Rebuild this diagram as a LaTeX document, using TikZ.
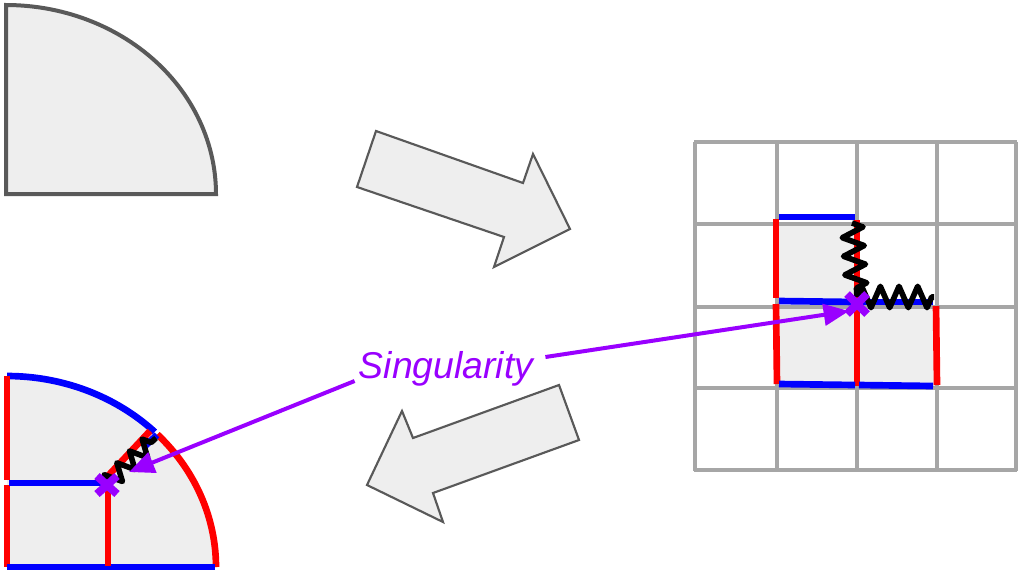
\documentclass[tikz,border=0pt]{standalone}
\usepackage{fontspec}
\setmainfont{Liberation Sans}
\usetikzlibrary{arrows.meta,decorations.pathmorphing,calc}
\definecolor{shapefill}{HTML}{EEEEEE}
\definecolor{shapeline}{HTML}{595959}
\definecolor{gridgray}{HTML}{A6A6A6}
\definecolor{redline}{HTML}{FF0000}
\definecolor{blueline}{HTML}{0000FF}
\definecolor{purp}{HTML}{9900FF}
\tikzset{
  outline/.style={draw=shapeline,fill=shapefill,line width=3pt},
  bigarrow/.style={draw=shapeline,fill=shapefill,line width=1.6pt,line join=miter},
  gridline/.style={draw=gridgray,line width=3pt},
  redseg/.style={draw=redline,line width=5pt},
  blueseg/.style={draw=blueline,line width=5pt},
  zz/.style={draw=black,line width=4.2pt,line join=round,decorate,decoration={zigzag,segment length=14pt,amplitude=8pt}},
  sarrow/.style={draw=purp,line width=3pt,-{Triangle[length=19pt,width=16pt]}},
  xmark/.style={draw=purp,line width=6pt},
}
\begin{document}
\begin{tikzpicture}[x=0.75pt,y=-0.75pt]
\useasboundingbox (0,0) rectangle (1019,572);

% top-left quarter shape
\path[outline] (6,194) -- (6,5) -- plot[domain=-90:0,samples=60] ({6+210*cos(\x)},{194+189*sin(\x)}) -- cycle;

% big arrows
\path[bigarrow] (376,131) -- (523,183) -- (533,154) -- (570,229) -- (494,267) -- (504,237) -- (357,187) -- cycle;
\path[bigarrow] (559,385) -- (579,440) -- (433,493) -- (443,522) -- (367,485) -- (402,411) -- (413,438) -- cycle;

% grid on the right
\fill[shapefill] (777,224) rectangle (857,307);
\fill[shapefill] (777,307) rectangle (937,388);
\foreach \gx in {695,777,857,937,1016} {\draw[gridline] (\gx,142) -- (\gx,471);}
\foreach \gy in {142,224,307,388,470} {\draw[gridline] (694,\gy) -- (1017,\gy);}

% coloured edges in the grid
\draw[blueseg] (779,217) -- (855,217);
\draw[redseg] (776,219) -- (776,298);
\draw[redseg] (857,220) -- (857,299);
\draw[blueseg] (779,301) -- (855,302);
\draw[blueseg] (859,302) -- (933,302);
\draw[redseg] (776,304) -- (777,384);
\draw[redseg] (857,307) -- (857,386);
\draw[redseg] (936,306) -- (937,385);
\draw[blueseg] (779,384) -- (855,385);
\draw[blueseg] (859,385) -- (933,386);

% zigzags in the grid
\coordinate (zt) at (852,223);
\coordinate (zc) at (857,297);
\coordinate (zr) at (934,297);
\draw[zz] (zt) -- (zc);
\draw[zz] (zc) -- (zr);

% purple cross in the grid
\coordinate (xa) at (857,304);
\draw[xmark] ($(xa)+(-10,-10)$) -- ($(xa)+(10,10)$);
\draw[xmark] ($(xa)+(-10,10)$) -- ($(xa)+(10,-10)$);

% bottom-left shape
\path[fill=shapefill] (7,567) -- (7,376) -- plot[domain=-90:0,samples=60] ({7+209*cos(\x)},{567+191*sin(\x)}) -- cycle;
\draw[blueseg] plot[domain=-90:-45,samples=40] ({7+209*cos(\x)},{567+191*sin(\x)});
\draw[redseg] plot[domain=-44:0,samples=40] ({7+209*cos(\x)},{567+191*sin(\x)});
\draw[redseg] (7,376) -- (7,480);
\draw[redseg] (7,485) -- (7,567);
\draw[blueseg] (7,567) -- (215,567);
\draw[blueseg] (9,483) -- (101,483);
\draw[redseg] (108,490) -- (108,566);
\draw[redseg] (106,478) -- (150,431);
\draw[blueseg] (145,446) -- (157,435);

\coordinate (za) at (107,484);
\coordinate (zb) at (156,438);
\draw[zz,decoration={zigzag,segment length=13pt,amplitude=6.5pt}] (za) -- (zb);

\coordinate (xb) at (107,485);
\draw[xmark] ($(xb)+(-10,-9)$) -- ($(xb)+(10,9)$);
\draw[xmark] ($(xb)+(-10,9)$) -- ($(xb)+(10,-9)$);

% label and arrows
\node[inner sep=3pt,text=purp,font=\fontsize{28}{33}\selectfont\itshape] (sing) at (446,369) {Singularity};
\coordinate (tipA) at (849,311);
\coordinate (tipB) at (129,472);
\draw[sarrow] ([xshift=6pt,yshift=9pt]sing.east) -- (tipA);
\draw[sarrow] ([yshift=-9pt]sing.west) -- (tipB);
\end{tikzpicture}
\end{document}
